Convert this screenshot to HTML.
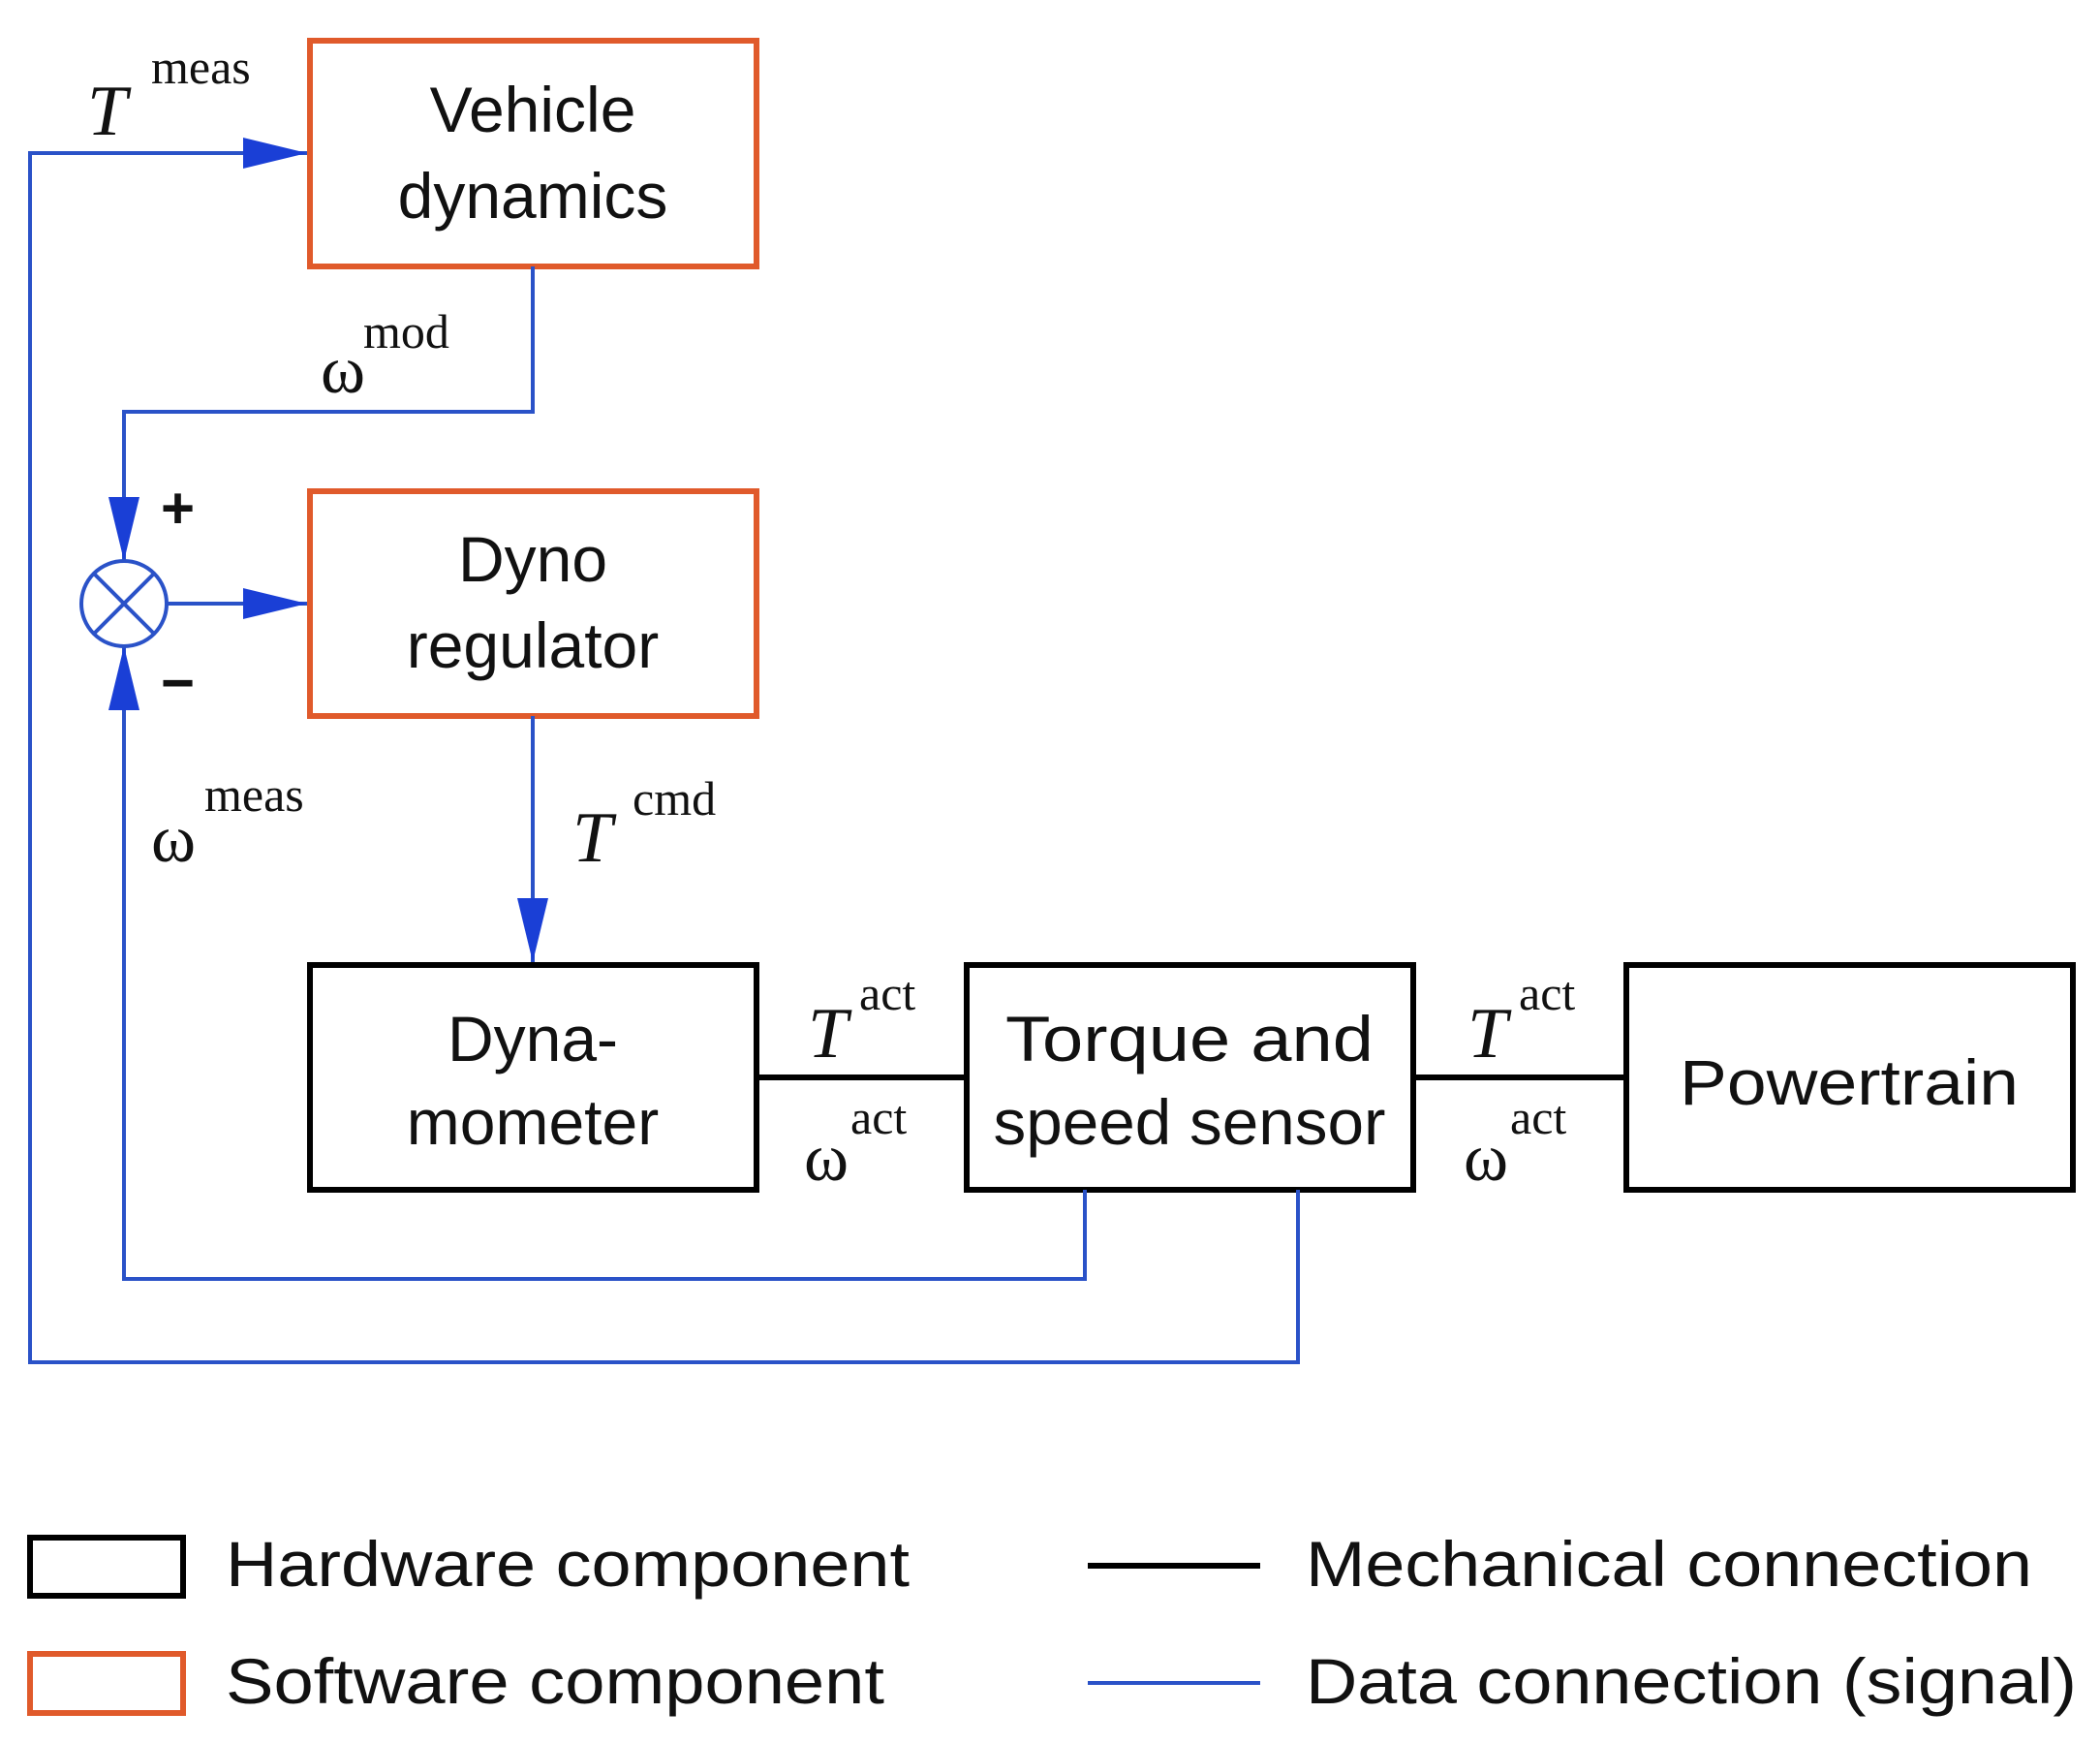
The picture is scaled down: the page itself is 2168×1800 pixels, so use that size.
<!DOCTYPE html>
<html><head><meta charset="utf-8"><style>html,body{margin:0;padding:0;background:#fff}svg{display:block}</style></head>
<body>
<svg width="2168" height="1800" viewBox="0 0 2168 1800" xmlns="http://www.w3.org/2000/svg">
<defs>
<marker id="ah" markerWidth="66" markerHeight="32" refX="66" refY="16" orient="auto" markerUnits="userSpaceOnUse">
<path d="M0,0 L66,16 L0,32 Z" fill="#1a3fd6"/>
</marker>
</defs>
<g fill="none" stroke="#e05a2b" stroke-width="6">
<rect x="320" y="42" width="461" height="233"/>
<rect x="320" y="507" width="461" height="232"/>
<rect x="31" y="1707" width="158" height="61"/>
</g>
<g fill="none" stroke="#000" stroke-width="6">
<rect x="320" y="996" width="461" height="232"/>
<rect x="998" y="996" width="461" height="232"/>
<rect x="1679" y="996" width="461" height="232"/>
<rect x="31" y="1587" width="158" height="60"/>
<line x1="781" y1="1112" x2="998" y2="1112"/>
<line x1="1459" y1="1112" x2="1679" y2="1112"/>
<line x1="1123" y1="1616" x2="1301" y2="1616"/>
</g>
<g fill="none" stroke="#2a52c8" stroke-width="4">
<polyline points="1340,1228 1340,1406 31,1406 31,158 317,158" marker-end="url(#ah)"/>
<polyline points="550,275 550,425 128,425 128,579" marker-end="url(#ah)"/>
<line x1="172" y1="623" x2="317" y2="623" marker-end="url(#ah)"/>
<line x1="550" y1="739" x2="550" y2="993" marker-end="url(#ah)"/>
<polyline points="1120,1228 1120,1320 128,1320 128,667" marker-end="url(#ah)"/>
<circle cx="128" cy="623" r="44"/>
<line x1="97" y1="592" x2="159" y2="654"/>
<line x1="159" y1="592" x2="97" y2="654"/>
<line x1="1123" y1="1737" x2="1301" y2="1737"/>
</g>
<g font-family="Liberation Sans, sans-serif" font-size="66" fill="#111" text-anchor="middle">
<text x="550" y="136">Vehicle</text>
<text x="550" y="225">dynamics</text>
<text x="550" y="600">Dyno</text>
<text x="550" y="689">regulator</text>
<text x="550" y="1095">Dyna-</text>
<text x="550" y="1181">mometer</text>
<text x="1228" y="1095" textLength="380" lengthAdjust="spacingAndGlyphs">Torque and</text>
<text x="1228" y="1181" textLength="405" lengthAdjust="spacingAndGlyphs">speed sensor</text>
<text x="1909" y="1140" textLength="350" lengthAdjust="spacingAndGlyphs">Powertrain</text>
</g>
<g font-family="Liberation Sans, sans-serif" font-size="66" fill="#111">
<text x="233" y="1637" textLength="706" lengthAdjust="spacingAndGlyphs">Hardware component</text>
<text x="233" y="1758" textLength="680" lengthAdjust="spacingAndGlyphs">Software component</text>
<text x="1348" y="1637" textLength="750" lengthAdjust="spacingAndGlyphs">Mechanical connection</text>
<text x="1348" y="1758" textLength="796" lengthAdjust="spacingAndGlyphs">Data connection (signal)</text>
<text x="166" y="545" font-size="60" font-weight="bold">+</text>
<text x="166" y="725" font-size="60" font-weight="bold">−</text>
</g>
<g font-family="Liberation Serif, serif" fill="#111">
<text x="90" y="139" font-size="74" font-style="italic">T</text>
<text x="156" y="86" font-size="50">meas</text>
<text x="331" y="405" font-size="70">ω</text>
<text x="375" y="359" font-size="50">mod</text>
<text x="156" y="889" font-size="70">ω</text>
<text x="211" y="837" font-size="50">meas</text>
<text x="591" y="889" font-size="74" font-style="italic">T</text>
<text x="653" y="841" font-size="50">cmd</text>
<text x="834" y="1091" font-size="74" font-style="italic">T</text>
<text x="887" y="1042" font-size="50">act</text>
<text x="830" y="1218" font-size="70">ω</text>
<text x="878" y="1170" font-size="50">act</text>
<text x="1515" y="1091" font-size="74" font-style="italic">T</text>
<text x="1568" y="1042" font-size="50">act</text>
<text x="1511" y="1218" font-size="70">ω</text>
<text x="1559" y="1170" font-size="50">act</text>
</g>
</svg>
</body></html>
